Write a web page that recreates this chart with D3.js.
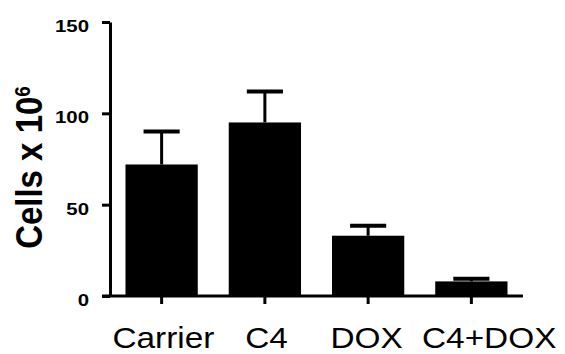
<!DOCTYPE html>
<html>
<head>
<meta charset="utf-8">
<script src="https://cdn.jsdelivr.net/npm/d3@7"></script>
<style>
  body { margin: 0; background: #fff; }
  svg { display: block; }
</style>
</head>
<body>
<script>
// data
const groups = ["Carrier", "C4", "DOX", "C4+DOX"]
const means = [72, 95, 33, 8]
const errors = [18, 17, 5.5, 1.5]
const yTicks = [0, 50, 100, 150]

const dimensions = {
  width: 565,
  height: 354,
  margin: { top: 22, right: 42, bottom: 58, left: 110 },
}
dimensions.boundedWidth = dimensions.width - dimensions.margin.left - dimensions.margin.right
dimensions.boundedHeight = dimensions.height - dimensions.margin.top - dimensions.margin.bottom

const font = "'Liberation Sans', Arial, sans-serif"

const wrapper = d3.select("body")
  .append("svg")
    .attr("width", dimensions.width)
    .attr("height", dimensions.height)

const bounds = wrapper.append("g")
  .attr("transform", `translate(${dimensions.margin.left},${dimensions.margin.top})`)

const xScale = d3.scaleBand()
  .domain(groups)
  .range([0, dimensions.boundedWidth])
  .paddingInner(0.3)
  .paddingOuter(0.15)

const yScale = d3.scaleLinear()
  .domain([0, 150])
  .range([dimensions.boundedHeight, 0])

// error bars (drawn first so the bar covers the stem base)
const bw = xScale.bandwidth()
const err = bounds.selectAll(".err")
  .data(groups)
  .join("g")
    .attr("class", "err")

err.append("line")
    .attr("x1", d => xScale(d) + bw / 2)
    .attr("x2", d => xScale(d) + bw / 2)
    .attr("y1", (d, i) => yScale(means[i]))
    .attr("y2", (d, i) => yScale(means[i] + errors[i]))
    .attr("stroke", "black")
    .attr("stroke-width", 3)

err.append("line")
    .attr("x1", d => xScale(d) + bw / 4)
    .attr("x2", d => xScale(d) + bw * 3 / 4)
    .attr("y1", (d, i) => yScale(means[i] + errors[i]))
    .attr("y2", (d, i) => yScale(means[i] + errors[i]))
    .attr("stroke", "black")
    .attr("stroke-width", 4)

// bars
bounds.selectAll(".bar")
  .data(groups)
  .join("rect")
    .attr("class", "bar")
    .attr("x", d => xScale(d))
    .attr("width", bw)
    .attr("y", (d, i) => yScale(means[i]))
    .attr("height", (d, i) => dimensions.boundedHeight - yScale(means[i]))
    .attr("fill", "black")

// y axis (the source picture is stretched sideways, so the text is too)
const yAxis = bounds.append("g")
  .call(d3.axisLeft(yScale).tickValues(yTicks).tickSize(8).tickSizeOuter(0))
yAxis.select(".domain").attr("stroke-width", 3)
yAxis.selectAll(".tick line").attr("stroke-width", 3)
yAxis.selectAll(".tick text")
    .attr("x", -17.5)
    .attr("dy", "0.55em")
    .attr("transform", "scale(1.2,1)")
    .attr("fill", "black")
    .style("font-family", font)
    .style("font-weight", "bold")
    .style("font-size", "17px")

// x axis
const xAxis = bounds.append("g")
    .attr("transform", `translate(0,${dimensions.boundedHeight})`)
  .call(d3.axisBottom(xScale).tickSize(8).tickSizeOuter(0))
xAxis.select(".domain")
    .attr("d", `M-8,0H${dimensions.boundedWidth}`)
    .attr("stroke-width", 3)
xAxis.selectAll(".tick line").attr("stroke-width", 3)
// labels sit a little off their ticks in the original, the last one most
xAxis.selectAll(".tick text")
    .attr("y", 31)
    .attr("x", d => d === "C4+DOX" ? 15.5 : d === "DOX" ? -1.3 : 1.5)
    .attr("transform", "scale(1.15,1)")
    .attr("fill", "black")
    .style("font-family", font)
    .style("font-size", "29px")

// y label
const yLabel = wrapper.append("text")
    .attr("transform", `translate(42,167.5) rotate(-90) scale(1,1.12)`)
    .attr("text-anchor", "middle")
    .attr("fill", "black")
    .style("font-family", font)
    .style("font-weight", "bold")
    .style("font-size", "33px")
yLabel.append("tspan").text("Cells x 10")
yLabel.append("tspan")
    .attr("dy", -11)
    .style("font-size", "19px")
    .text("6")
</script>
</body>
</html>
